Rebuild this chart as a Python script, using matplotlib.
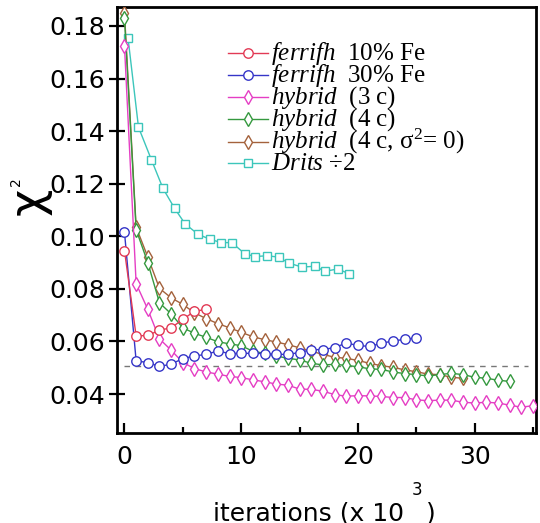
import matplotlib
matplotlib.use("Agg")
import matplotlib.pyplot as plt
from matplotlib.ticker import FixedLocator

# Convergence of chi^2 versus iteration count (x 10^3)
ferrifh10_x = [0, 1, 2, 3, 4, 5, 6, 7]
ferrifh10_y = [0.0946, 0.0621, 0.0623, 0.0643, 0.0652, 0.0684, 0.0715, 0.0722]

ferrifh30_x = list(range(0, 26))
ferrifh30_y = [0.1016, 0.0526, 0.0520, 0.0505, 0.0514, 0.0535, 0.0545, 0.0551,
               0.0564, 0.0554, 0.0555, 0.0555, 0.0554, 0.0551, 0.0551, 0.0558,
               0.0569, 0.0569, 0.0577, 0.0594, 0.0585, 0.0581, 0.0593, 0.0602,
               0.0608, 0.0614]

hybrid3_x = list(range(0, 36))
hybrid3_y = [0.1725, 0.0820, 0.0722, 0.0610, 0.0567, 0.0520, 0.0497, 0.0484,
             0.0476, 0.0467, 0.0463, 0.0454, 0.0447, 0.0438, 0.0434, 0.0419,
             0.0418, 0.0411, 0.0398, 0.0392, 0.0394, 0.0393, 0.0391, 0.0387,
             0.0387, 0.0378, 0.0375, 0.0377, 0.0377, 0.0369, 0.0366, 0.0369,
             0.0366, 0.0358, 0.0350, 0.0356]

hybrid4_x = list(range(0, 34))
hybrid4_y = [0.1830, 0.1025, 0.0900, 0.0747, 0.0705, 0.0652, 0.0631, 0.0616,
             0.0599, 0.0591, 0.0584, 0.0563, 0.0555, 0.0545, 0.0536, 0.0530,
             0.0517, 0.0511, 0.0513, 0.0509, 0.0504, 0.0496, 0.0494, 0.0484,
             0.0478, 0.0474, 0.0469, 0.0474, 0.0479, 0.0474, 0.0464, 0.0460,
             0.0453, 0.0448]

hybrid4s0_x = list(range(0, 30))
hybrid4s0_y = [0.1850, 0.1035, 0.0921, 0.0802, 0.0766, 0.0741, 0.0709, 0.0687,
               0.0668, 0.0652, 0.0635, 0.0618, 0.0607, 0.0598, 0.0588, 0.0576,
               0.0563, 0.0551, 0.0540, 0.0536, 0.0528, 0.0517, 0.0508, 0.0502,
               0.0492, 0.0485, 0.0476, 0.0474, 0.0464, 0.0460]

drits_x = [0.3, 1.2, 2.3, 3.3, 4.3, 5.2, 6.3, 7.3, 8.3, 9.2,
           10.3, 11.2, 12.2, 13.2, 14.1, 15.2, 16.3, 17.2, 18.3, 19.2]
drits_y = [0.1756, 0.1415, 0.1292, 0.1182, 0.1106, 0.1047, 0.1008, 0.0989,
           0.0976, 0.0976, 0.0934, 0.0923, 0.0926, 0.0921, 0.0898, 0.0883,
           0.0886, 0.0867, 0.0876, 0.0858]

threshold_y = 0.0505
threshold_x = [0, 34.6]

x_ticks = [0, 10, 20, 30]
x_minor = [5, 15, 25, 35]
y_ticks = [0.04, 0.06, 0.08, 0.10, 0.12, 0.14, 0.16, 0.18]

labels = [r"$\mathit{ferrifh}$  10% Fe",
          r"$\mathit{ferrifh}$  30% Fe",
          r"$\mathit{hybrid}$  (3 c)",
          r"$\mathit{hybrid}$  (4 c)",
          r"$\mathit{hybrid}$  (4 c, σ$^2$= 0)",
          r"$\mathit{Drits}$ ÷2"]

plt.rcParams["mathtext.fontset"] = "custom"
plt.rcParams["mathtext.it"] = "Liberation Serif:italic"
plt.rcParams["mathtext.rm"] = "Liberation Serif"
plt.rcParams["mathtext.bf"] = "Liberation Serif:bold"

W, H = 540, 523
fig = plt.figure(figsize=(W / 100, H / 100), dpi=100)
ax_l, ax_r, ax_t, ax_b = 117, 536, 7, 433
ax = fig.add_axes([ax_l / W, 1 - ax_b / H, (ax_r - ax_l) / W, (ax_b - ax_t) / H])

series = [
    (ferrifh10_x, ferrifh10_y, "#e23a55", "o", 6.8),
    (ferrifh30_x, ferrifh30_y, "#3535c8", "o", 6.8),
    (hybrid3_x, hybrid3_y, "#e53ec4", "d", 7.6),
    (hybrid4_x, hybrid4_y, "#35993f", "d", 7.6),
    (hybrid4s0_x, hybrid4s0_y, "#a4623c", "d", 7.6),
    (drits_x, drits_y, "#3cc6bb", "s", 6.0),
]

ax.plot(threshold_x, [threshold_y, threshold_y], ls=(0, (4, 4)), color="#777777",
        lw=1.0, zorder=1)

# draw later series first so the ferrifh curves sit on top
for xs, ys, c, m, ms in reversed(series):
    ax.plot(xs, ys, color=c, lw=1.0, marker=m, ms=ms, mfc="white", mec=c,
            mew=1.0, zorder=3, clip_on=True)

ax.set_xlim(-0.64, 35.26)
ax.set_ylim(0.0252, 0.1872)

ax.xaxis.set_major_locator(FixedLocator(x_ticks))
ax.xaxis.set_minor_locator(FixedLocator(x_minor))
ax.yaxis.set_major_locator(FixedLocator(y_ticks))
ax.set_xticklabels([str(v) for v in x_ticks])
ax.set_yticklabels([f"{v:.2f}" for v in y_ticks])

ax.tick_params(axis="x", which="major", direction="in", length=7.5, width=1.6,
               labelsize=18, pad=9, top=False)
ax.tick_params(axis="x", which="minor", direction="in", length=4, width=1.6,
               top=False)
ax.tick_params(axis="y", which="major", direction="inout", length=12, width=1.6,
               labelsize=18, pad=2.5, right=False)
ax.tick_params(axis="y", which="minor", left=False, right=False)
for sp in ax.spines.values():
    sp.set_linewidth(2.0)

# legend built row by row in axes coordinates
def fx(px):
    return (px - ax_l) / (ax_r - ax_l)

def fy(py):
    return (ax_b - py) / (ax_b - ax_t)

rows = [53.3, 75, 96.7, 119, 141.7, 163.3]
for (xs, ys, c, m, ms), lab, ry in zip(series, labels, rows):
    ax.plot([fx(228), fx(248), fx(268)], [fy(ry)] * 3, color=c, lw=1.0,
            marker=m, ms=ms, mfc="white", mec=c, mew=1.0, markevery=[1],
            transform=ax.transAxes, clip_on=False, zorder=4)
    ax.text(fx(271), fy(ry + 7), lab, transform=ax.transAxes,
            family="Liberation Serif", fontsize=18, ha="left", va="baseline")

# y label: chi with a small raised 2
fig.text(29 / W, 1 - 201 / H, "χ", rotation=90, fontsize=34,
         ha="center", va="center")
fig.text(16 / W, 1 - 182 / H, "2", rotation=90, fontsize=10,
         ha="center", va="center")

# x label with a small raised exponent
fig.canvas.draw()
r = fig.canvas.get_renderer()
t1 = fig.text(213 / W, 1 - 521 / H, "iterations (x 10", fontsize=18,
              ha="left", va="baseline")
bb = t1.get_window_extent(r)
t2 = fig.text((bb.x1 + 8) / W, 1 - 495 / H, "3", fontsize=12,
              ha="left", va="baseline")
bb2 = t2.get_window_extent(r)
fig.text((bb2.x1 + 3) / W, 1 - 521 / H, ")", fontsize=18,
         ha="left", va="baseline")

fig.savefig("out.png", dpi=100)
